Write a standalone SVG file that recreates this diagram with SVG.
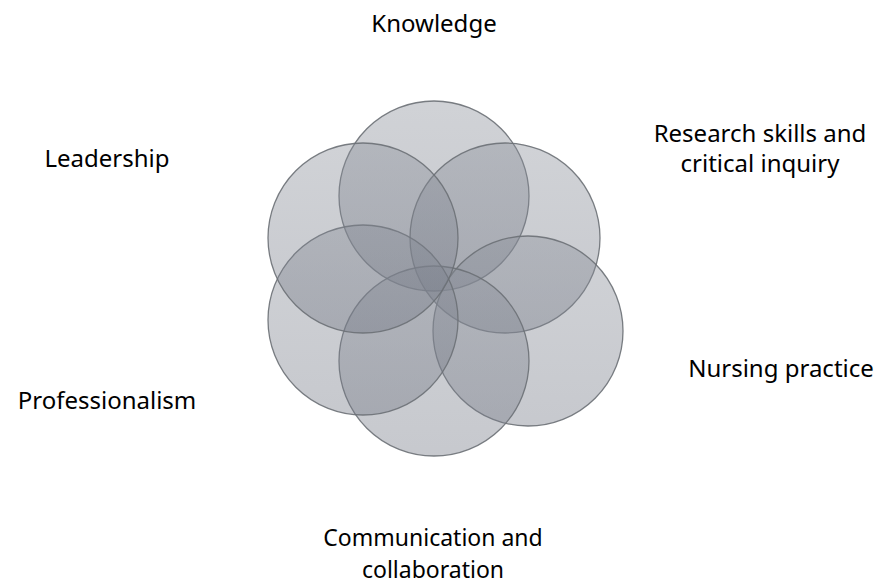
<svg xmlns="http://www.w3.org/2000/svg" width="880" height="585" viewBox="0 0 880 585">
<defs>
<linearGradient id="g" x1="0" y1="0" x2="0" y2="1">
<stop offset="0" stop-color="#8a8f99"/>
<stop offset="1" stop-color="#727784"/>
</linearGradient>
</defs>
<style>
.c{fill:url(#g);fill-opacity:0.4;stroke:#6c7076;stroke-width:1.3;stroke-opacity:0.9}
.t{font-family:"Noto Sans","Open Sans","Liberation Sans",sans-serif;font-size:24px;fill:#000;text-anchor:middle}
.s{font-size:23px}
</style>
<rect width="880" height="585" fill="#fff"/>
<g id="knowledge"><circle class="c" cx="434" cy="196" r="95"/><text class="t" x="434" y="32">Knowledge</text></g>
<g id="research"><circle class="c" cx="505" cy="238" r="95"/><text class="t" x="760" y="142">Research skills and</text><text class="t" x="760" y="172">critical inquiry</text></g>
<g id="nursing"><circle class="c" cx="528" cy="331" r="95"/><text class="t" x="781" y="377">Nursing practice</text></g>
<g id="communication"><circle class="c" cx="434" cy="361" r="95"/><text class="t s" x="433" y="546">Communication and</text><text class="t s" x="433" y="578">collaboration</text></g>
<g id="professionalism"><circle class="c" cx="363" cy="320" r="95"/><text class="t" x="107" y="409">Professionalism</text></g>
<g id="leadership"><circle class="c" cx="363" cy="238" r="95"/><text class="t" x="107" y="167">Leadership</text></g>
<g id="connectors"></g>
</svg>
